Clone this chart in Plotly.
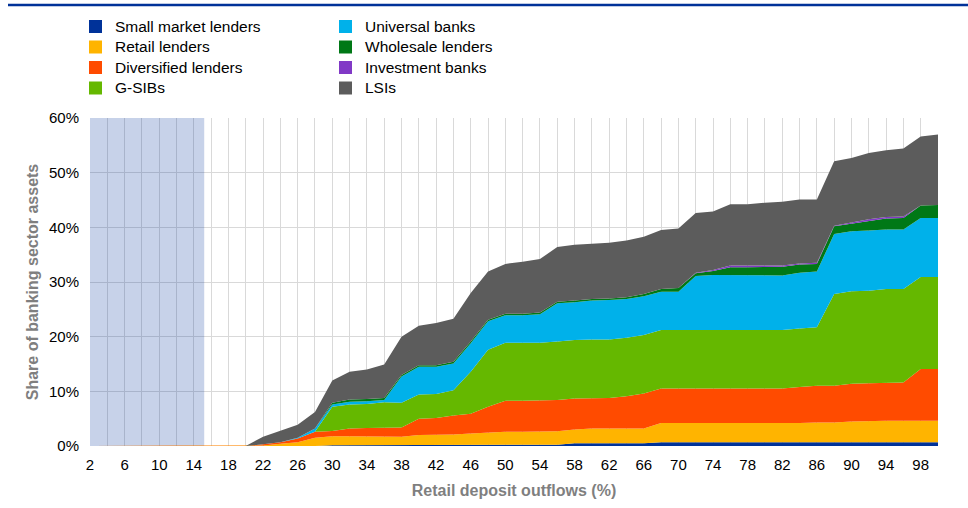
import plotly.graph_objects as go

# x positions: retail deposit outflow (%)
outflows = list(range(2, 101, 2))

# cumulative tops (share of banking sector assets, %)
# 2..18 are all zero, data starts at 20
cum_small = [0] * 14 + [0.15] * 13 + [0.25, 0.5, 0.5, 0.5, 0.5, 0.5] + [0.7] * 17
cum_retail = [0] * 10 + [0.1, 0.4, 0.7, 1.5, 1.8, 1.8, 1.8, 1.8, 1.7, 2.0, 2.0, 2.1, 2.3, 2.5,
                         2.6, 2.6, 2.6, 2.7, 3.0, 3.2, 3.2, 3.2, 3.2, 4.2, 4.2, 4.2, 4.2, 4.2,
                         4.2, 4.1, 4.1, 4.2, 4.3, 4.3, 4.5, 4.6, 4.6, 4.6, 4.6, 4.6]
cum_diversified = [0] * 10 + [0.3, 0.7, 1.35, 2.6, 2.75, 3.2, 3.3, 3.4, 3.4, 5.0, 5.1, 5.6, 5.9,
                              7.2, 8.3, 8.3, 8.4, 8.4, 8.7, 8.7, 8.8, 9.1, 9.6, 10.5, 10.5, 10.5,
                              10.5, 10.5, 10.5, 10.5, 10.5, 10.8, 11.0, 11.0, 11.4, 11.5, 11.6,
                              11.6, 14.1, 14.1]
cum_gsib = [0] * 10 + [0.3, 0.7, 1.35, 2.6, 7.2, 7.6, 7.7, 8.0, 7.9, 9.4, 9.5, 10.2, 13.6, 17.6,
                       18.9, 18.9, 18.9, 19.1, 19.4, 19.5, 19.5, 19.8, 20.3, 21.2, 21.2, 21.2,
                       21.2, 21.2, 21.2, 21.2, 21.2, 21.5, 21.7, 27.8, 28.3, 28.4, 28.7, 28.7,
                       30.9, 30.9]
cum_universal = [0] * 10 + [0.3, 0.7, 1.5, 3.2, 7.6, 8.1, 8.2, 8.4, 12.7, 14.5, 14.5, 15.1, 18.8,
                            22.8, 23.9, 23.9, 24.1, 26.1, 26.3, 26.6, 26.7, 26.9, 27.4, 28.2,
                            28.2, 31.1, 31.3, 31.3, 31.3, 31.3, 31.2, 31.7, 31.9, 38.8, 39.3,
                            39.4, 39.6, 39.6, 41.7, 41.7]
cum_wholesale = [0] * 10 + [0.3, 0.7, 1.5, 3.2, 7.9, 8.5, 8.6, 8.8, 13.0, 14.75, 14.75, 15.4,
                            19.1, 23.1, 24.2, 24.2, 24.4, 26.4, 26.6, 26.9, 27.0, 27.2, 27.8,
                            28.7, 28.9, 31.6, 32.0, 32.7, 32.7, 32.8, 32.8, 33.2, 33.3, 40.2,
                            40.7, 41.2, 41.6, 41.7, 44.0, 44.1]
cum_investment = [0] * 10 + [0.3, 0.7, 1.5, 3.2, 7.9, 8.5, 8.6, 8.8, 13.0, 14.75, 14.75, 15.4,
                             19.1, 23.1, 24.2, 24.2, 24.4, 26.4, 26.6, 26.9, 27.0, 27.2, 27.8,
                             28.7, 28.9, 31.7, 32.2, 33.0, 33.0, 33.0, 33.0, 33.4, 33.5, 40.3,
                             40.9, 41.5, 41.9, 42.0, 44.0, 44.1]
cum_lsi = [0] * 10 + [1.7, 2.8, 3.9, 6.2, 12.0, 13.6, 14.0, 14.9, 20.0, 22.0, 22.5, 23.3, 28.0,
                      31.9, 33.3, 33.7, 34.2, 36.4, 36.8, 37.0, 37.2, 37.6, 38.3, 39.5, 39.8,
                      42.6, 42.9, 44.2, 44.2, 44.5, 44.7, 45.1, 45.1, 52.1, 52.7, 53.6, 54.1,
                      54.4, 56.6, 57.0]

names = ["Small market lenders", "Retail lenders", "Diversified lenders", "G-SIBs",
         "Universal banks", "Wholesale lenders", "Investment banks", "LSIs"]
colors = ["#003299", "#FFB400", "#FF4B00", "#65B800",
          "#00B1EA", "#007816", "#8139C6", "#5C5C5C"]
cumulative = [cum_small, cum_retail, cum_diversified, cum_gsib,
              cum_universal, cum_wholesale, cum_investment, cum_lsi]

font = "Arial, Liberation Sans, sans-serif"

# plot area in pixels: left 90, right 938, top 118, bottom 446
L, R, T, B = 90, 938, 118, 446


def px_x(p):
    return (p - L) / (R - L)


def px_y(p):
    return (B - p) / (B - T)


fig = go.Figure()

prev = [0] * len(outflows)
for name, color, cum in zip(names, colors, cumulative):
    share = [round(max(c - p, 0), 3) for c, p in zip(cum, prev)]
    prev = cum
    fig.add_trace(
        go.Scatter(
            x=outflows,
            y=share,
            name=name,
            stackgroup="one",
            mode="lines",
            line=dict(width=0, color=color),
            fillcolor=color,
            showlegend=False,
        )
    )

# legend drawn by hand: two columns of square swatches
shapes = []
annotations = []
row_y = [26.5, 47, 67.5, 88]
for i, (name, color) in enumerate(zip(names, colors)):
    col, row = divmod(i, 4)
    sx = 89 if col == 0 else 339
    cy = row_y[row]
    shapes.append(dict(
        type="rect", xref="paper", yref="paper",
        x0=px_x(sx), x1=px_x(sx + 13), y0=px_y(cy + 6.5), y1=px_y(cy - 6.5),
        fillcolor=color, line_width=0,
    ))
    annotations.append(dict(
        text=name, xref="paper", yref="paper", x=px_x(sx + 24), y=px_y(cy),
        xanchor="left", yanchor="middle", showarrow=False,
        font=dict(family=font, size=15.5, color="#000000"),
    ))

# shaded region for low outflows
shapes.append(dict(
    type="rect", xref="x", yref="y", x0=2, x1=15.2, y0=0, y1=60,
    fillcolor="rgba(0,50,153,0.22)", line_width=0, layer="between",
))

# blue line across the top
shapes.append(dict(
    type="line", xref="paper", yref="paper", x0=px_x(8), x1=px_x(968), y0=px_y(5), y1=px_y(5),
    line=dict(color="#003299", width=2.5),
))

fig.update_layout(
    width=968,
    height=508,
    paper_bgcolor="white",
    plot_bgcolor="white",
    margin=dict(l=L, r=968 - R, t=T, b=508 - B, autoexpand=False),
    font=dict(family=font, size=15, color="#000000"),
    showlegend=False,
    shapes=shapes,
    annotations=annotations,
    xaxis=dict(
        range=[2, 100],
        tickmode="linear",
        tick0=2,
        dtick=4,
        showgrid=True,
        gridcolor="#D9D9D9",
        gridwidth=1,
        minor=dict(dtick=2, tick0=2, showgrid=True, gridcolor="#D9D9D9", gridwidth=1),
        zeroline=False,
        showline=False,
        ticks="",
        ticklabelstandoff=8,
        tickfont=dict(size=15, color="#000000"),
        title=dict(text="<b>Retail deposit outflows (%)</b>",
                   font=dict(size=16, color="#7F7F7F"), standoff=12),
    ),
    yaxis=dict(
        range=[0, 60],
        tickmode="linear",
        tick0=0,
        dtick=10,
        ticksuffix="%",
        showgrid=True,
        gridcolor="#D9D9D9",
        gridwidth=1,
        zeroline=False,
        showline=False,
        ticks="",
        ticklabelstandoff=10,
        tickfont=dict(size=15, color="#000000"),
        title=dict(text="<b>Share of banking sector assets</b>",
                   font=dict(size=16, color="#7F7F7F"), standoff=6),
    ),
)

# drop the page's default body margin so the figure sits at the window corner
fig.write_html(
    "out.html",
    config={"displayModeBar": False},
    post_script="document.body.style.margin = '0';",
)
